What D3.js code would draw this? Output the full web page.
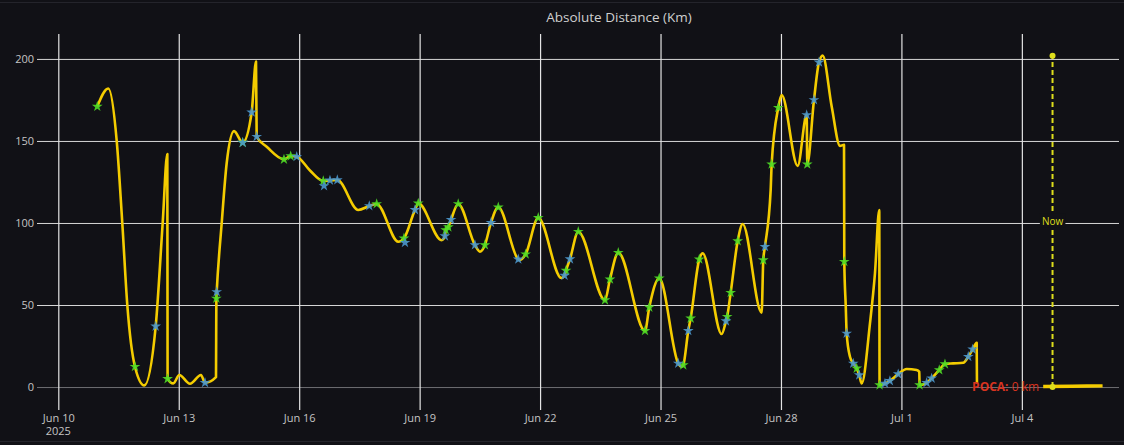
<!DOCTYPE html>
<html>
<head>
<meta charset="utf-8">
<script src="https://cdn.jsdelivr.net/npm/d3@7"></script>
<style>
  html, body { margin: 0; padding: 0; background: #111116; }
  svg { display: block; font-family: 'Open Sans', sans-serif; }
</style>
</head>
<body>
<svg id="chart" width="1124" height="445"></svg>
<script>
// distance track (km)
const lineTimes = [
  '2025-06-10 23:18', '2025-06-11 05:53', '2025-06-11 10:55', '2025-06-11 14:15', '2025-06-11 17:15',
  '2025-06-11 21:50', '2025-06-12 03:24', '2025-06-12 10:13', '2025-06-12 14:24', '2025-06-12 17:10',
  '2025-06-12 17:20', '2025-06-12 20:44', '2025-06-13 00:20', '2025-06-13 06:43', '2025-06-13 13:18',
  '2025-06-13 15:42', '2025-06-13 22:16', '2025-06-13 22:29', '2025-06-13 22:41', '2025-06-14 01:41',
  '2025-06-14 04:39', '2025-06-14 09:02', '2025-06-14 14:14', '2025-06-14 19:36', '2025-06-14 22:11',
  '2025-06-14 22:35', '2025-06-15 04:35', '2025-06-15 14:54', '2025-06-15 18:55', '2025-06-15 22:31',
  '2025-06-16 06:27', '2025-06-16 14:24', '2025-06-16 18:24', '2025-06-16 22:47', '2025-06-17 11:20',
  '2025-06-17 17:54', '2025-06-17 22:19', '2025-06-18 11:14', '2025-06-18 14:38', '2025-06-18 21:13',
  '2025-06-18 23:11', '2025-06-19 13:10', '2025-06-19 15:07', '2025-06-19 15:36', '2025-06-19 17:10',
  '2025-06-19 18:46', '2025-06-19 23:04', '2025-06-20 09:04', '2025-06-20 12:02', '2025-06-20 15:01',
  '2025-06-20 18:39', '2025-06-20 23:01', '2025-06-21 10:58', '2025-06-21 12:00', '2025-06-21 15:23',
  '2025-06-21 22:55', '2025-06-22 12:43', '2025-06-22 14:38', '2025-06-22 15:29', '2025-06-22 17:53',
  '2025-06-22 22:50', '2025-06-23 14:47', '2025-06-23 17:47', '2025-06-23 22:45', '2025-06-24 14:43',
  '2025-06-24 17:17', '2025-06-24 23:15', '2025-06-25 10:36', '2025-06-25 12:39', '2025-06-25 13:36',
  '2025-06-25 16:35', '2025-06-25 18:01', '2025-06-25 23:10', '2025-06-26 01:11', '2025-06-26 12:33',
  '2025-06-26 15:07', '2025-06-26 15:50', '2025-06-26 17:56', '2025-06-26 22:08', '2025-06-27 01:06',
  '2025-06-27 12:27', '2025-06-27 13:25', '2025-06-27 14:25', '2025-06-27 17:50', '2025-06-27 18:26',
  '2025-06-27 22:24', '2025-06-28 00:24', '2025-06-28 09:59', '2025-06-28 15:22', '2025-06-28 15:43',
  '2025-06-28 19:44', '2025-06-28 22:44', '2025-06-29 00:56', '2025-06-29 06:19', '2025-06-29 11:17',
  '2025-06-29 13:41', '2025-06-29 13:51', '2025-06-29 14:44', '2025-06-29 15:16', '2025-06-29 17:15',
  '2025-06-29 19:13', '2025-06-29 21:16', '2025-06-29 22:48', '2025-06-30 00:14', '2025-06-30 05:12',
  '2025-06-30 08:11', '2025-06-30 10:45', '2025-06-30 10:57', '2025-06-30 14:10', '2025-06-30 17:07',
  '2025-06-30 22:05', '2025-07-01 03:07', '2025-07-01 09:07', '2025-07-01 10:41', '2025-07-01 10:51',
  '2025-07-01 15:06', '2025-07-01 18:04', '2025-07-01 22:38', '2025-07-02 02:02', '2025-07-02 06:59',
  '2025-07-02 12:58', '2025-07-02 15:58', '2025-07-02 18:35', '2025-07-02 20:59', '2025-07-02 21:10'
]
const lineValues = [
  171, 182, 150, 100, 50,
  12.4, 1, 37, 100, 142,
  5, 2.2, 7.3, 2, 7.3,
  2.6, 6, 54, 58, 100,
  136.4, 156, 149, 167.5, 198.4,
  152.6, 146.5, 138.8, 140.8, 140.4,
  132, 125.6, 126, 126.2, 107.9,
  110.4, 111.6, 88.6, 90.7, 108,
  112, 89.5, 92, 95.7, 97.5,
  102, 111.6, 86.6, 82.5, 86.6,
  100.2, 109.6, 77.9, 77.4, 81,
  103.2, 66.5, 68, 71, 78,
  94.7, 53, 65.7, 81.9, 34.3,
  48.6, 66.3, 14.4, 12.4, 13.4,
  34.3, 41.9, 77.9, 81.5, 32.3,
  40.2, 42.9, 57.5, 89, 99.4,
  45.3, 77.4, 85.5, 120, 135.8,
  170.3, 178, 134.8, 165.9, 135.8,
  175, 198, 202, 171, 147,
  147.6, 76.4, 49, 32.7, 18.5,
  14.4, 11.4, 7.3, 2.2, 38.8,
  69.3, 107.9, 1.2, 2.2, 3.8,
  7.9, 11, 10.4, 9.3, 1.2,
  2.6, 5.3, 10.4, 14, 14.4,
  14.8, 18.5, 23, 27, 2.2
]

// forecast tail after the last fix
const tailTimes = ['2025-07-04 12:45', '2025-07-05 06:00', '2025-07-06 00:15']
const tailValues = [0.3, 0.5, 0.7]

// green star markers
const greenTimes = [
  '2025-06-10 23:18', '2025-06-11 21:50', '2025-06-12 17:20', '2025-06-13 22:29', '2025-06-14 14:14',
  '2025-06-15 14:54', '2025-06-15 18:55', '2025-06-16 14:24', '2025-06-17 22:19', '2025-06-18 14:38',
  '2025-06-18 23:11', '2025-06-19 15:36', '2025-06-19 17:10', '2025-06-19 23:04', '2025-06-20 15:01',
  '2025-06-20 23:01', '2025-06-21 15:23', '2025-06-21 22:55', '2025-06-22 15:29', '2025-06-22 22:50',
  '2025-06-23 14:47', '2025-06-23 17:47', '2025-06-23 22:45', '2025-06-24 14:43', '2025-06-24 17:17',
  '2025-06-24 23:15', '2025-06-25 13:36', '2025-06-25 18:01', '2025-06-25 23:10', '2025-06-26 15:50',
  '2025-06-26 17:56', '2025-06-26 22:08', '2025-06-27 13:25', '2025-06-27 18:26', '2025-06-27 22:24',
  '2025-06-28 15:43', '2025-06-29 13:51', '2025-06-29 21:16', '2025-06-30 10:57', '2025-07-01 10:51',
  '2025-07-01 22:38', '2025-07-02 02:02'
]
const greenValues = [
  171, 12.4, 5, 54, 149,
  138.8, 140.8, 125.6, 111.6, 90.7,
  112, 95.7, 97.5, 111.6, 86.6,
  109.6, 81, 103.2, 71, 94.7,
  53, 65.7, 81.9, 34.3, 48.6,
  66.3, 13.4, 41.9, 77.9, 42.9,
  57.5, 89, 77.4, 135.8, 170.3,
  135.8, 76.4, 11.4, 1.2, 1.2,
  10.4, 14
]

// blue star markers
const blueTimes = [
  '2025-06-12 10:13', '2025-06-13 15:42', '2025-06-13 22:41', '2025-06-14 14:14', '2025-06-14 19:36',
  '2025-06-14 22:35', '2025-06-15 22:31', '2025-06-16 14:50', '2025-06-16 18:24', '2025-06-16 22:47',
  '2025-06-17 17:54', '2025-06-18 15:14', '2025-06-18 21:13', '2025-06-19 15:07', '2025-06-19 18:46',
  '2025-06-20 09:04', '2025-06-20 18:39', '2025-06-21 10:58', '2025-06-22 14:38', '2025-06-22 17:53',
  '2025-06-25 10:36', '2025-06-25 16:35', '2025-06-26 15:07', '2025-06-27 14:25', '2025-06-28 15:22',
  '2025-06-28 19:44', '2025-06-28 22:44', '2025-06-29 15:16', '2025-06-29 19:13', '2025-06-29 22:48',
  '2025-06-30 14:10', '2025-06-30 17:07', '2025-06-30 22:05', '2025-07-01 15:06', '2025-07-01 18:04',
  '2025-07-02 15:58', '2025-07-02 18:35'
]
const blueValues = [
  37, 2.6, 58, 149, 167.5,
  152.6, 140.4, 122.6, 126, 126.2,
  110.4, 88, 108, 92, 102,
  86.6, 100.2, 77.9, 68, 78,
  14.4, 34.3, 40.2, 85.5, 165.9,
  175, 198, 32.7, 14.4, 7.3,
  2.2, 3.8, 7.9, 2.6, 5.3,
  18.5, 23
]

const nowTime = '2025-07-04 18:20'
const nowRange = [0, 202]
const pocaTime = '2025-07-02 18:15'
const pocaValue = 0

const xTickDates = ['2025-06-10 00:00', '2025-06-13 00:00', '2025-06-16 00:00', '2025-06-19 00:00',
  '2025-06-22 00:00', '2025-06-25 00:00', '2025-06-28 00:00', '2025-07-01 00:00', '2025-07-04 00:00']
const xTickLabels = ['Jun 10', 'Jun 13', 'Jun 16', 'Jun 19', 'Jun 22', 'Jun 25', 'Jun 28', 'Jul 1', 'Jul 4']
const xYearLabel = '2025'
const yTicks = [0, 50, 100, 150, 200]

const parse = d3.timeParse('%Y-%m-%d %H:%M')
const bg = '#111116'
const lineColor = '#f4cc00'

const svg = d3.select('#chart')
const W = 1124
const plot = { left: 37, right: 1119, top: 34, bottom: 410 }

svg.append('rect').attr('width', W).attr('height', 445).attr('fill', bg)
svg.append('line').attr('x1', 0).attr('x2', W).attr('y1', 2.5).attr('y2', 2.5).attr('stroke', '#24242b')
svg.append('line').attr('x1', 0).attr('x2', W).attr('y1', 441.5).attr('y2', 441.5).attr('stroke', '#24242b')

const xScale = d3.scaleTime()
  .domain([parse('2025-06-09 11:16'), parse('2025-07-06 10:04')])
  .range([plot.left, plot.right])
const yScale = d3.scaleLinear()
  .domain([-14, 215.2])
  .range([plot.bottom, plot.top])

// title
svg.append('text')
  .attr('x', 619).attr('y', 22)
  .attr('text-anchor', 'middle')
  .attr('fill', '#cfcfcf')
  .attr('font-size', 13.5)
  .text('Absolute Distance (Km)')

// y grid + labels
const yAxis = svg.append('g')
  .attr('transform', 'translate(' + plot.left + ',0)')
  .call(d3.axisLeft(yScale).tickValues(yTicks).tickSize(-(plot.right - plot.left)).tickPadding(3))
yAxis.select('.domain').remove()
yAxis.selectAll('.tick line')
  .attr('stroke', function(d) { return d === 0 ? '#6e6e72' : '#d6d6d6' })
  .attr('stroke-width', 1)
yAxis.selectAll('.tick text')
  .attr('fill', '#c4c4c4')
  .attr('font-size', 11)
  .attr('font-family', "'Open Sans', sans-serif")

// x grid + labels
const xAxis = svg.append('g')
  .attr('transform', 'translate(0,' + plot.bottom + ')')
  .call(d3.axisBottom(xScale)
    .tickValues(xTickDates.map(parse))
    .tickSize(-(plot.bottom - plot.top))
    .tickFormat(function(d, i) { return xTickLabels[i] }))
xAxis.select('.domain').remove()
xAxis.selectAll('.tick line').attr('stroke', '#e4e4e4').attr('stroke-width', 1.2)
xAxis.selectAll('.tick text')
  .attr('fill', '#c4c4c4')
  .attr('font-size', 11)
  .attr('font-family', "'Open Sans', sans-serif")
  .attr('y', 4)

// year under the first tick
svg.append('text')
  .attr('x', xScale(parse(xTickDates[0])))
  .attr('y', 435)
  .attr('text-anchor', 'middle')
  .attr('fill', '#c4c4c4')
  .attr('font-size', 11)
  .text(xYearLabel)

// main track
const track = lineTimes.map(function(t, i) { return [parse(t), lineValues[i]] })
const line = d3.line()
  .x(function(d) { return xScale(d[0]) })
  .y(function(d) { return yScale(d[1]) })
  .curve(d3.curveMonotoneX)

svg.append('path')
  .datum(track)
  .attr('d', line)
  .attr('fill', 'none')
  .attr('stroke', lineColor)
  .attr('stroke-width', 2.6)
  .attr('stroke-linejoin', 'round')

const tail = tailTimes.map(function(t, i) { return [parse(t), tailValues[i]] })
svg.append('path')
  .datum(tail)
  .attr('d', line)
  .attr('fill', 'none')
  .attr('stroke', lineColor)
  .attr('stroke-width', 3.4)

// star markers
const star = d3.symbol().type(d3.symbolStar).size(36)
function drawStars(times, values, color) {
  svg.append('g').selectAll('path')
    .data(times.map(function(t, i) { return [parse(t), values[i]] }))
    .enter()
    .append('path')
    .attr('d', star)
    .attr('transform', function(d) { return 'translate(' + xScale(d[0]) + ',' + yScale(d[1]) + ')' })
    .attr('fill', color)
    .attr('opacity', 0.9)
}
drawStars(greenTimes, greenValues, '#4fdb26')
drawStars(blueTimes, blueValues, '#4b97cc')

// "Now" marker
const nx = xScale(parse(nowTime))
const nowColor = '#dede1c'
svg.append('line')
  .attr('x1', nx).attr('x2', nx)
  .attr('y1', yScale(nowRange[0])).attr('y2', yScale(nowRange[1]))
  .attr('stroke', nowColor)
  .attr('stroke-width', 2)
  .attr('stroke-dasharray', '5,3')
svg.selectAll('.nowdot')
  .data(nowRange)
  .enter()
  .append('circle')
  .attr('cx', nx)
  .attr('cy', function(d) { return yScale(d) })
  .attr('r', 3)
  .attr('fill', nowColor)
const midY = yScale((nowRange[0] + nowRange[1]) / 2)
const nowText = svg.append('text')
  .attr('x', nx).attr('y', midY)
  .attr('dy', '0.35em')
  .attr('text-anchor', 'middle')
  .attr('font-size', 10)
  .attr('fill', nowColor)
  .text('Now')
const nb = nowText.node().getBBox()
svg.insert('rect', function() { return nowText.node() })
  .attr('x', nb.x - 2).attr('y', nb.y)
  .attr('width', nb.width + 4).attr('height', nb.height)
  .attr('fill', bg)

// POCA label
const poca = svg.append('text')
  .attr('x', xScale(parse(pocaTime)))
  .attr('y', yScale(pocaValue))
  .attr('dy', '0.35em')
  .attr('font-size', 12)
  .attr('fill', '#d8331f')
poca.append('tspan').attr('font-weight', 'bold').text('POCA:')
poca.append('tspan').text(' ' + pocaValue + ' km')
</script>
</body>
</html>
